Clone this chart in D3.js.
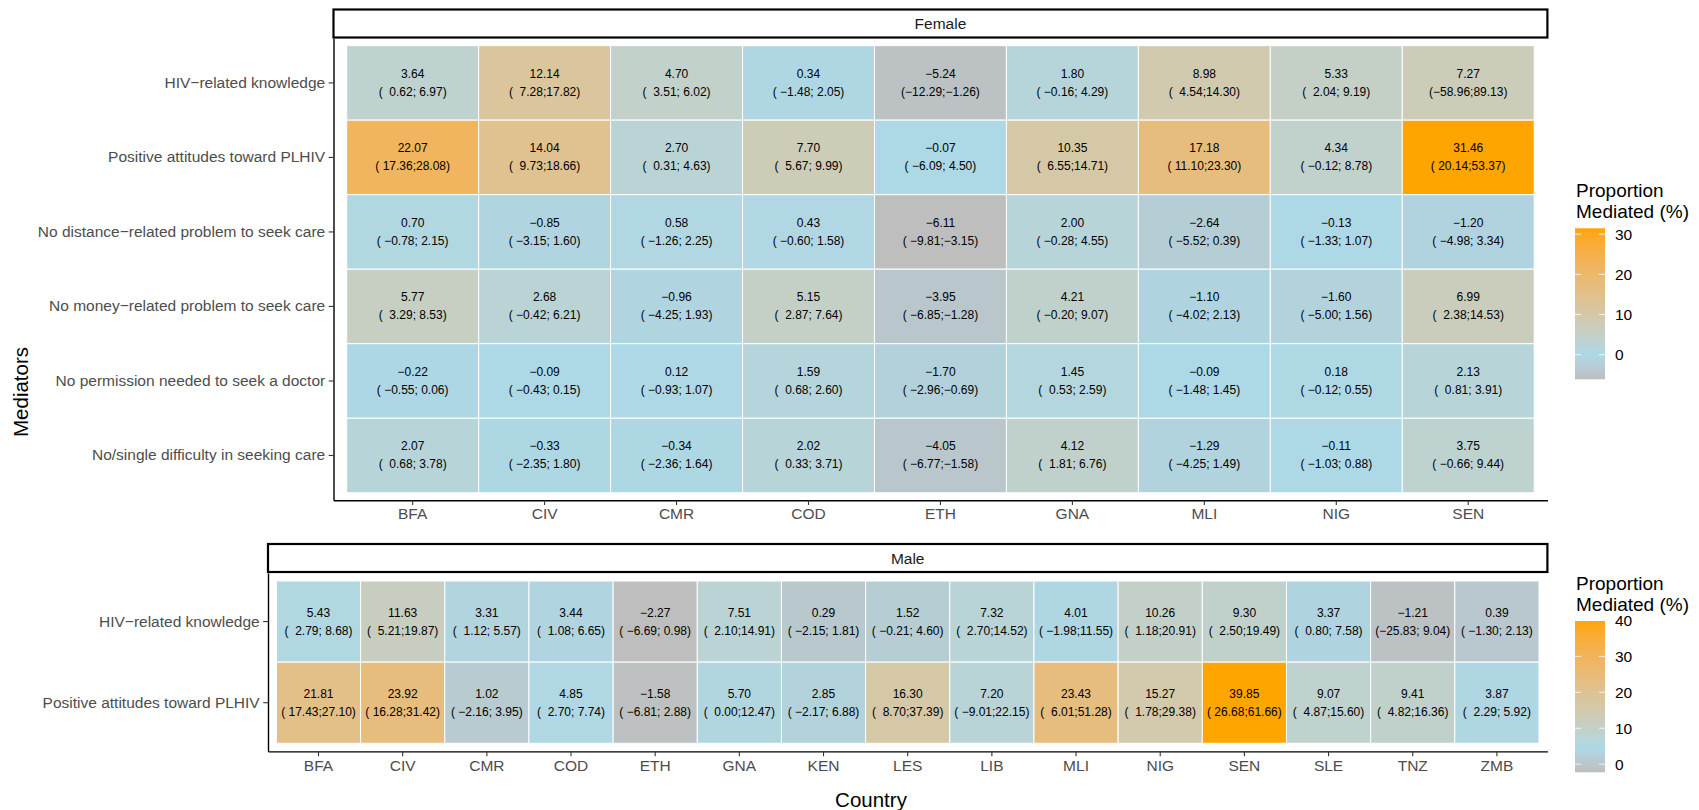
<!DOCTYPE html>
<html>
<head>
<meta charset="utf-8">
<script src="https://cdn.jsdelivr.net/npm/d3@7"></script>
<style>
  body { margin: 0; background: #fff; }
  svg { font-family: "Liberation Sans", Arial, Helvetica, sans-serif; }
  .ci { white-space: pre; }
</style>
</head>
<body>
<div id="chart"></div>
<script>
// ---- data ----
const femaleCountries = ["BFA", "CIV", "CMR", "COD", "ETH", "GNA", "MLI", "NIG", "SEN"];
const femaleMediators = [
  "HIV−related knowledge",
  "Positive attitudes toward PLHIV",
  "No distance−related problem to seek care",
  "No money−related problem to seek care",
  "No permission needed to seek a doctor",
  "No/single difficulty in seeking care"
];
// rows = mediators, columns = countries
const femaleEst = [
  [3.64, 12.14, 4.70, 0.34, -5.24, 1.80, 8.98, 5.33, 7.27],
  [22.07, 14.04, 2.70, 7.70, -0.07, 10.35, 17.18, 4.34, 31.46],
  [0.70, -0.85, 0.58, 0.43, -6.11, 2.00, -2.64, -0.13, -1.20],
  [5.77, 2.68, -0.96, 5.15, -3.95, 4.21, -1.10, -1.60, 6.99],
  [-0.22, -0.09, 0.12, 1.59, -1.70, 1.45, -0.09, 0.18, 2.13],
  [2.07, -0.33, -0.34, 2.02, -4.05, 4.12, -1.29, -0.11, 3.75]
];
const femaleLo = [
  [0.62, 7.28, 3.51, -1.48, -12.29, -0.16, 4.54, 2.04, -58.96],
  [17.36, 9.73, 0.31, 5.67, -6.09, 6.55, 11.10, -0.12, 20.14],
  [-0.78, -3.15, -1.26, -0.60, -9.81, -0.28, -5.52, -1.33, -4.98],
  [3.29, -0.42, -4.25, 2.87, -6.85, -0.20, -4.02, -5.00, 2.38],
  [-0.55, -0.43, -0.93, 0.68, -2.96, 0.53, -1.48, -0.12, 0.81],
  [0.68, -2.35, -2.36, 0.33, -6.77, 1.81, -4.25, -1.03, -0.66]
];
const femaleHi = [
  [6.97, 17.82, 6.02, 2.05, -1.26, 4.29, 14.30, 9.19, 89.13],
  [28.08, 18.66, 4.63, 9.99, 4.50, 14.71, 23.30, 8.78, 53.37],
  [2.15, 1.60, 2.25, 1.58, -3.15, 4.55, 0.39, 1.07, 3.34],
  [8.53, 6.21, 1.93, 7.64, -1.28, 9.07, 2.13, 1.56, 14.53],
  [0.06, 0.15, 1.07, 2.60, -0.69, 2.59, 1.45, 0.55, 3.91],
  [3.78, 1.80, 1.64, 3.71, -1.58, 6.76, 1.49, 0.88, 9.44]
];

const maleCountries = ["BFA", "CIV", "CMR", "COD", "ETH", "GNA", "KEN", "LES", "LIB", "MLI", "NIG", "SEN", "SLE", "TNZ", "ZMB"];
const maleMediators = ["HIV−related knowledge", "Positive attitudes toward PLHIV"];
const maleEst = [
  [5.43, 11.63, 3.31, 3.44, -2.27, 7.51, 0.29, 1.52, 7.32, 4.01, 10.26, 9.30, 3.37, -1.21, 0.39],
  [21.81, 23.92, 1.02, 4.85, -1.58, 5.70, 2.85, 16.30, 7.20, 23.43, 15.27, 39.85, 9.07, 9.41, 3.87]
];
const maleLo = [
  [2.79, 5.21, 1.12, 1.08, -6.69, 2.10, -2.15, -0.21, 2.70, -1.98, 1.18, 2.50, 0.80, -25.83, -1.30],
  [17.43, 16.28, -2.16, 2.70, -6.81, 0.00, -2.17, 8.70, -9.01, 6.01, 1.78, 26.68, 4.87, 4.82, 2.29]
];
const maleHi = [
  [8.68, 19.87, 5.57, 6.65, 0.98, 14.91, 1.81, 4.60, 14.52, 11.55, 20.91, 19.49, 7.58, 9.04, 2.13],
  [27.10, 31.42, 3.95, 7.74, 2.88, 12.47, 6.88, 37.39, 22.15, 51.28, 29.38, 61.66, 15.60, 16.36, 5.92]
];

const femaleLegendTicks = [0, 10, 20, 30];
const maleLegendTicks = [0, 10, 20, 30, 40];

// ---- drawing ----
const width = 1699;
const height = 810;

const svg = d3
  .select("#chart")
  .append("svg")
  .attr("width", width)
  .attr("height", height);

const fmt = (v, w) => v.toFixed(2).padStart(w, " ").replace("-", "\u2212");

const makeColor = (values) => {
  const ext = d3.extent(values);
  return d3
    .scaleLinear()
    .domain([ext[0], ext[0] + 0.16 * (ext[1] - ext[0]), ext[1]])
    .range(["#bebebe", "#add8e6", "#ffa500"])
    .interpolate(d3.interpolateLab);
};

const drawPanel = (p) => {
  const x = d3.scaleBand().domain(p.countries).range(p.xRange).paddingInner(0).paddingOuter(0.1);
  const y = d3.scaleBand().domain(p.mediators).range(p.yRange).paddingInner(0).paddingOuter(0.1);
  const all = p.est.flat();
  const color = makeColor(all);

  const cells = [];
  p.est.forEach((row, i) =>
    row.forEach((v, j) =>
      cells.push({ m: p.mediators[i], c: p.countries[j], v, lo: p.lo[i][j], hi: p.hi[i][j] })
    )
  );

  const g = svg.append("g");

  g.selectAll("rect.tile")
    .data(cells)
    .enter()
    .append("rect")
    .attr("class", "tile")
    .attr("x", d => x(d.c))
    .attr("y", d => y(d.m))
    .attr("width", x.bandwidth())
    .attr("height", y.bandwidth())
    .attr("fill", d => color(d.v))
    .attr("stroke", "#fff")
    .attr("stroke-width", 1);

  g.selectAll("text.val")
    .data(cells)
    .enter()
    .append("text")
    .attr("class", "val")
    .attr("x", d => x(d.c) + x.bandwidth() / 2)
    .attr("y", d => y(d.m) + y.bandwidth() / 2 - 9)
    .attr("text-anchor", "middle")
    .attr("dominant-baseline", "central")
    .attr("font-size", 12)
    .attr("fill", "#000")
    .text(d => fmt(d.v, 4).trim());

  g.selectAll("text.ci")
    .data(cells)
    .enter()
    .append("text")
    .attr("class", "ci")
    .attr("x", d => x(d.c) + x.bandwidth() / 2)
    .attr("y", d => y(d.m) + y.bandwidth() / 2 + 9)
    .attr("text-anchor", "middle")
    .attr("dominant-baseline", "central")
    .attr("font-size", 12)
    .attr("fill", "#000")
    .text(d => `(${fmt(d.lo, 6)};${fmt(d.hi, 5)})`);

  const xAxis = d3.axisBottom(x).tickSize(4.8).tickSizeOuter(0).tickPadding(3.5);
  const yAxis = d3.axisLeft(y).tickSize(4.8).tickSizeOuter(0).tickPadding(3.5);

  const gx = g.append("g").attr("transform", `translate(0,${p.yRange[1]})`).call(xAxis);
  const gy = g.append("g").attr("transform", `translate(${p.xRange[0]},0)`).call(yAxis);
  [gx, gy].forEach(a => {
    a.select(".domain").attr("stroke", "#000").attr("stroke-width", 1.4);
    a.selectAll(".tick line").attr("stroke", "#333").attr("stroke-width", 1.1);
    a.selectAll(".tick text")
      .attr("fill", "#4d4d4d")
      .attr("font-size", 15.5)
      .attr("font-family", "'Liberation Sans', Arial, sans-serif");
  });

  // strip
  g.append("rect")
    .attr("x", p.xRange[0])
    .attr("y", p.strip[0])
    .attr("width", p.xRange[1] - p.xRange[0])
    .attr("height", p.strip[1] - p.strip[0])
    .attr("fill", "#fff")
    .attr("stroke", "#000")
    .attr("stroke-width", 2.2);
  g.append("text")
    .attr("x", (p.xRange[0] + p.xRange[1]) / 2)
    .attr("y", (p.strip[0] + p.strip[1]) / 2)
    .attr("text-anchor", "middle")
    .attr("dominant-baseline", "central")
    .attr("font-size", 15.5)
    .attr("fill", "#1a1a1a")
    .text(p.title);

  drawLegend(p.legend, all, p.ticks, color);
};

const drawLegend = (L, values, ticks, color) => {
  const ext = d3.extent(values);
  const s = d3.scaleLinear().domain(ext).range([L.bottom, L.top]);
  const id = "grad" + L.top;
  const grad = svg
    .append("defs")
    .append("linearGradient")
    .attr("id", id)
    .attr("x1", 0).attr("y1", 1).attr("x2", 0).attr("y2", 0);
  d3.range(0, 1.0001, 0.02).forEach(t => {
    grad.append("stop")
      .attr("offset", t)
      .attr("stop-color", color(ext[0] + t * (ext[1] - ext[0])));
  });
  const g = svg.append("g");
  ["Proportion", "Mediated (%)"].forEach((line, i) => {
    g.append("text")
      .attr("x", L.x + 1)
      .attr("y", L.titleY + i * 21)
      .attr("dominant-baseline", "central")
      .attr("font-size", 19)
      .attr("fill", "#000")
      .text(line);
  });
  g.append("rect")
    .attr("x", L.x)
    .attr("y", L.top)
    .attr("width", 30)
    .attr("height", L.bottom - L.top)
    .attr("fill", `url(#${id})`);
  ticks.forEach(t => {
    const yy = s(t);
    g.append("line").attr("x1", L.x).attr("x2", L.x + 6).attr("y1", yy).attr("y2", yy)
      .attr("stroke", "#fff").attr("stroke-width", 1).attr("opacity", 0.8);
    g.append("line").attr("x1", L.x + 24).attr("x2", L.x + 30).attr("y1", yy).attr("y2", yy)
      .attr("stroke", "#fff").attr("stroke-width", 1).attr("opacity", 0.8);
    g.append("text")
      .attr("x", L.x + 40)
      .attr("y", yy)
      .attr("dominant-baseline", "central")
      .attr("font-size", 15.5)
      .attr("fill", "#000")
      .text(t);
  });
};

drawPanel({
  title: "Female",
  countries: femaleCountries,
  mediators: femaleMediators,
  est: femaleEst,
  lo: femaleLo,
  hi: femaleHi,
  ticks: femaleLegendTicks,
  xRange: [333.5, 1547.4],
  yRange: [38.2, 500.2],
  strip: [9.5, 37.5],
  legend: { x: 1575, top: 228.3, bottom: 379.3, titleY: 190 }
});

drawPanel({
  title: "Male",
  countries: maleCountries,
  mediators: maleMediators,
  est: maleEst,
  lo: maleLo,
  hi: maleHi,
  ticks: maleLegendTicks,
  xRange: [268, 1547.4],
  yRange: [572.9, 751.4],
  strip: [544, 572],
  legend: { x: 1575, top: 621, bottom: 772.3, titleY: 583 }
});

// axis titles
svg.append("text")
  .attr("transform", "translate(20.5,392) rotate(-90)")
  .attr("text-anchor", "middle")
  .attr("dominant-baseline", "central")
  .attr("font-size", 20.5)
  .attr("fill", "#000")
  .text("Mediators");

svg.append("text")
  .attr("x", 871)
  .attr("y", 799)
  .attr("text-anchor", "middle")
  .attr("dominant-baseline", "central")
  .attr("font-size", 20.5)
  .attr("fill", "#000")
  .text("Country");
</script>
</body>
</html>
